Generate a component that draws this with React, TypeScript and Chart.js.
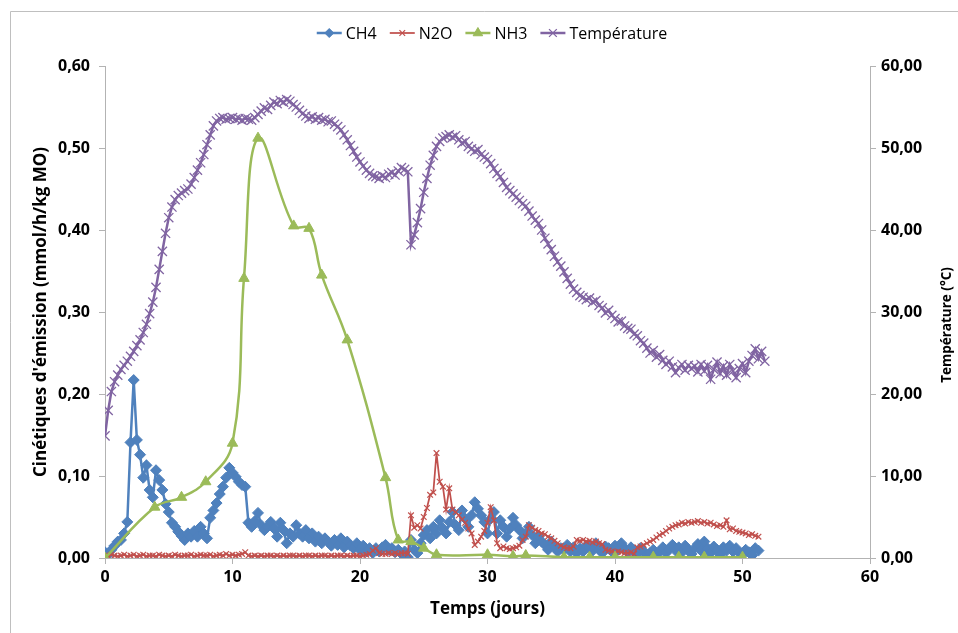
import { useEffect, useRef } from "react";
import { Chart, registerables } from "chart.js";
import { drawPoint } from "chart.js/helpers";

Chart.register(...registerables);

// Sampling interval of the continuous measurements (days, every 6 h)
const SAMPLE_STEP_DAYS = 0.25;

const seriesNames = ["CH4", "N2O", "NH3", "Température"];

const ch4Values = [
  0.007, 0.004, 0.010, 0.015, 0.020, 0.022, 0.030, 0.044,
  0.141, 0.217, 0.144, 0.126, 0.098, 0.113, 0.083, 0.074,
  0.107, 0.095, 0.083, 0.066, 0.056, 0.043, 0.038, 0.032,
  0.027, 0.022, 0.030, 0.026, 0.033, 0.026, 0.038, 0.030,
  0.024, 0.049, 0.058, 0.067, 0.078, 0.087, 0.098, 0.110,
  0.104, 0.099, 0.093, 0.089, 0.087, 0.043, 0.038, 0.045,
  0.055, 0.040, 0.034, 0.038, 0.044, 0.036, 0.026, 0.043,
  0.034, 0.018, 0.030, 0.026, 0.040, 0.030, 0.026, 0.034,
  0.024, 0.030, 0.020, 0.026, 0.018, 0.024, 0.020, 0.015,
  0.022, 0.016, 0.024, 0.013, 0.020, 0.015, 0.012, 0.018,
  0.010, 0.015, 0.008, 0.012, 0.006, 0.012, 0.008, 0.013,
  0.016, 0.010, 0.012, 0.007, 0.010, 0.005, 0.008, 0.001,
  0.022, 0.010, 0.006, 0.018, 0.028, 0.034, 0.024, 0.038,
  0.030, 0.046, 0.036, 0.030, 0.044, 0.056, 0.040, 0.034,
  0.058, 0.048, 0.038, 0.052, 0.068, 0.060, 0.052, 0.044,
  0.030, 0.048, 0.056, 0.030, 0.046, 0.038, 0.026, 0.036,
  0.049, 0.040, 0.034, 0.024, 0.030, 0.038, 0.028, 0.018,
  0.026, 0.020, 0.016, 0.010, 0.020, 0.014, 0.008, 0.012,
  0.010, 0.016, 0.008, 0.013, 0.006, 0.012, 0.008, 0.015,
  0.013, 0.009, 0.018, 0.010, 0.006, 0.014, 0.012, 0.008,
  0.015, 0.010, 0.018, 0.012, 0.007, 0.013, 0.007, 0.005,
  0.012, 0.008, 0.004, 0.006, 0.010, 0.004, 0.008, 0.013,
  0.006, 0.011, 0.016, 0.009, 0.013, 0.007, 0.015, 0.010,
  0.005, 0.012, 0.017, 0.009, 0.020, 0.012, 0.006, 0.014,
  0.010, 0.004, 0.013, 0.009, 0.015, 0.008, 0.012, 0.006,
  0.004, 0.010, 0.007, 0.003, 0.012, 0.009,
];

const n2oValues = [
  0.003, 0.002, 0.004, 0.003, 0.002, 0.003, 0.004, 0.002,
  0.003, 0.004, 0.002, 0.003, 0.004, 0.002, 0.003, 0.003,
  0.002, 0.004, 0.003, 0.002, 0.003, 0.002, 0.004, 0.003,
  0.002, 0.003, 0.003, 0.004, 0.002, 0.003, 0.004, 0.003,
  0.003, 0.004, 0.002, 0.003, 0.004, 0.003, 0.005, 0.003,
  0.004, 0.003, 0.004, 0.005, 0.007, 0.003, 0.002, 0.003,
  0.002, 0.003, 0.002, 0.003, 0.003, 0.002, 0.003, 0.002,
  0.003, 0.002, 0.003, 0.003, 0.002, 0.003, 0.002, 0.003,
  0.003, 0.002, 0.003, 0.002, 0.003, 0.003, 0.002, 0.003,
  0.002, 0.003, 0.003, 0.002, 0.003, 0.002, 0.003, 0.003,
  0.002, 0.003, 0.004, 0.005, 0.009, 0.012, 0.006, 0.005,
  0.005, 0.006, 0.005, 0.006, 0.005, 0.006, 0.006, 0.005,
  0.052, 0.037, 0.040, 0.036, 0.050, 0.061, 0.077, 0.080,
  0.128, 0.093, 0.087, 0.059, 0.085, 0.059, 0.056, 0.052,
  0.047, 0.043, 0.036, 0.030, 0.016, 0.020, 0.026, 0.033,
  0.043, 0.062, 0.046, 0.018, 0.012, 0.014, 0.012, 0.011,
  0.012, 0.013, 0.015, 0.022, 0.026, 0.040, 0.037, 0.034,
  0.033, 0.030, 0.029, 0.026, 0.024, 0.021, 0.018, 0.015,
  0.013, 0.012, 0.012, 0.014, 0.022, 0.021, 0.022, 0.020,
  0.021, 0.019, 0.020, 0.018, 0.017, 0.010, 0.009, 0.008,
  0.007, 0.008, 0.007, 0.006, 0.006, 0.007, 0.005, 0.013,
  0.014, 0.016, 0.018, 0.020, 0.022, 0.025, 0.028, 0.030,
  0.033, 0.036, 0.038, 0.040, 0.041, 0.043, 0.042, 0.044,
  0.043, 0.044, 0.045, 0.043, 0.044, 0.042, 0.043, 0.041,
  0.039, 0.040, 0.038, 0.046, 0.035, 0.036, 0.033, 0.032,
  0.031, 0.030, 0.028, 0.029, 0.027, 0.026,
];

const nh3Days = [0, 3.9, 6.0, 7.9, 10.0, 10.9, 12.0, 14.8, 16.0, 17.0, 19.0, 22.0, 23.0, 24.0, 25.0, 26.0, 30.0, 32.0, 33.0, 36.0, 38.0, 40.0, 43.0, 45.0, 47.0, 50.0];
const nh3Values = [0.0, 0.062, 0.074, 0.093, 0.140, 0.341, 0.512, 0.405, 0.402, 0.345, 0.266, 0.098, 0.022, 0.020, 0.012, 0.004, 0.004, 0.002, 0.003, 0.001, 0.001, 0.001, 0.001, 0.001, 0.001, 0.001];

const temperatureValues = [
  14.9, 18.0, 20.3, 21.5, 22.3, 23.0, 23.5, 24.0,
  24.6, 25.2, 25.9, 26.6, 27.5, 28.5, 29.8, 31.2,
  33.0, 35.2, 37.4, 39.6, 41.5, 42.8, 43.7, 44.2,
  44.5, 44.8, 45.0, 45.6, 46.4, 47.3, 48.2, 49.2,
  50.4, 51.6, 52.7, 53.3, 53.6, 53.7, 53.5, 53.6,
  53.7, 53.5, 53.6, 53.4, 53.6, 53.5, 53.4, 53.7,
  54.1, 54.5, 54.9, 54.7, 55.2, 55.6, 55.4, 55.8,
  55.6, 55.9, 55.7, 55.3, 55.0, 54.6, 54.2, 53.9,
  53.6, 53.8, 53.5, 53.7, 53.4, 53.5, 53.2, 53.3,
  52.9, 52.6, 52.2, 51.6, 51.0, 50.3, 49.6, 48.9,
  48.3, 47.8, 47.3, 46.9, 46.6, 46.5, 46.3, 46.6,
  46.4, 46.8, 47.0, 46.7, 47.2, 47.6, 47.4, 47.1,
  38.2, 39.4, 40.9, 42.6, 44.6, 46.3, 47.9, 49.1,
  50.2, 50.8, 51.2, 51.4, 51.6, 51.3, 51.5, 51.0,
  50.6, 50.8, 50.2, 49.9, 49.6, 49.8, 49.2, 48.9,
  48.6, 48.1, 47.5, 46.9, 46.5, 45.8, 45.2, 44.8,
  44.4, 44.0, 43.6, 43.2, 42.9, 42.3, 41.7, 41.2,
  40.8, 40.0, 39.0, 38.3, 37.6, 36.8, 36.1, 35.6,
  34.9, 34.1, 33.4, 32.8, 32.4, 32.0, 31.8, 31.5,
  31.7, 31.2, 31.4, 30.8, 30.5, 29.9, 30.2, 29.6,
  29.2, 28.8, 28.9, 28.3, 28.0, 27.9, 27.3, 27.1,
  26.5, 26.2, 25.6, 25.0, 25.3, 24.5, 24.8, 24.1,
  23.6, 24.0, 23.3, 22.6, 23.2, 23.6, 22.9, 23.5,
  23.1, 23.4, 22.7, 23.6, 22.8, 23.5, 21.8, 23.0,
  23.9, 22.5, 23.4, 22.3, 23.6, 22.8, 22.0, 23.1,
  23.7, 22.6, 24.0, 24.7, 25.5, 24.3, 25.2, 24.0,
];

const X_MIN = 0, X_MAX = 60, X_STEP = 10;
const Y_MIN = 0, Y_MAX = 0.6, Y_STEP = 0.1;
const T_MIN = 0, T_MAX = 60, T_STEP = 10;

const FONT = "'Open Sans', Lato, sans-serif";
const AXIS_COLOR = "#b3b3b3";
const COLORS = ["#4F81BD", "#C0504D", "#9BBB59", "#8064A2"];

const fmt = (v: number) => v.toFixed(2).replace(".", ",");

const toPoints = (vals: number[]) => vals.map((v, i) => ({ x: i * SAMPLE_STEP_DAYS, y: v }));

const legendPlugin = {
  id: "excelLegend",
  afterDraw(chart: any) {
    const ctx = chart.ctx as CanvasRenderingContext2D;
    const ds = chart.data.datasets;
    const order = [0, 1, 2, 3];
    ctx.save();
    ctx.font = `16px ${FONT}`;
    const lineLen = 25, gapText = 4, gapItem = 13;
    const widths = order.map((i) => ctx.measureText(ds[i].label).width);
    const total = widths.reduce((a, w) => a + lineLen + gapText + w, 0) + gapItem * (order.length - 1);
    let x = 492 - total / 2;
    const y = 33;
    order.forEach((i, k) => {
      const d = ds[i];
      ctx.strokeStyle = d.borderColor;
      ctx.lineWidth = Math.min(d.borderWidth, 2.5);
      ctx.beginPath();
      ctx.moveTo(x, y);
      ctx.lineTo(x + lineLen, y);
      ctx.stroke();
      ctx.fillStyle = d.backgroundColor;
      ctx.strokeStyle = d.borderColor;
      ctx.lineWidth = d.pointBorderWidth;
      drawPoint(
        ctx,
        { pointStyle: d.pointStyle, rotation: 0, radius: d.legendRadius, borderWidth: d.pointBorderWidth },
        x + lineLen / 2,
        y
      );
      ctx.fillStyle = "#000";
      ctx.textBaseline = "middle";
      ctx.textAlign = "left";
      ctx.fillText(d.label, x + lineLen + gapText, y + 1);
      x += lineLen + gapText + widths[k] + gapItem;
    });
    ctx.restore();
  },
};

const framePlugin = {
  id: "frame",
  beforeDraw(chart: any) {
    const ctx = chart.ctx as CanvasRenderingContext2D;
    ctx.save();
    ctx.fillStyle = "#ffffff";
    ctx.fillRect(0, 0, chart.width, chart.height);
    ctx.strokeStyle = "#bfbfbf";
    ctx.lineWidth = 1;
    ctx.beginPath();
    ctx.moveTo(10.5, chart.height + 2);
    ctx.lineTo(10.5, 11.5);
    ctx.lineTo(chart.width + 2, 11.5);
    ctx.stroke();
    ctx.restore();
  },
  afterDraw(chart: any) {
    const ctx = chart.ctx as CanvasRenderingContext2D;
    ctx.save();
    ctx.font = `bold 13.5px ${FONT}`;
    ctx.fillStyle = "#000";
    ctx.textAlign = "center";
    ctx.textBaseline = "middle";
    ctx.translate(947, 325);
    ctx.rotate(-Math.PI / 2);
    ctx.fillText("Température (°C)", 0, 0);
    ctx.restore();
  },
};

export default function App() {
  const ref = useRef<HTMLCanvasElement | null>(null);
  useEffect(() => {
    if (!ref.current) return;
    const tickFont = { family: FONT, size: 16, weight: "bold" as const };
    const chart = new Chart(ref.current, {
      type: "line",
      data: {
        datasets: [
          {
            label: seriesNames[0],
            data: toPoints(ch4Values),
            yAxisID: "y",
            borderColor: COLORS[0],
            backgroundColor: COLORS[0],
            borderWidth: 2.5,
            pointStyle: "rectRot",
            pointRadius: 5.5,
            pointBorderWidth: 1,
            legendRadius: 4.5,
            tension: 0,
            order: 3,
          },
          {
            label: seriesNames[1],
            data: toPoints(n2oValues),
            yAxisID: "y",
            borderColor: COLORS[1],
            backgroundColor: COLORS[1],
            borderWidth: 1.75,
            pointStyle: "crossRot",
            pointRadius: 4,
            pointBorderWidth: 1.2,
            legendRadius: 4,
            tension: 0,
            order: 2,
          },
          {
            label: seriesNames[2],
            data: nh3Days.map((d, i) => ({ x: d, y: nh3Values[i] })),
            yAxisID: "y",
            borderColor: COLORS[2],
            backgroundColor: COLORS[2],
            borderWidth: 2.5,
            pointStyle: "triangle",
            pointRadius: 6,
            pointBorderWidth: 1,
            legendRadius: 5.5,
            tension: 0.4,
            order: 1,
          },
          {
            label: seriesNames[3],
            data: toPoints(temperatureValues),
            yAxisID: "y2",
            borderColor: COLORS[3],
            backgroundColor: COLORS[3],
            borderWidth: 2.5,
            pointStyle: "crossRot",
            pointRadius: 6.5,
            pointBorderWidth: 1.3,
            legendRadius: 5.5,
            tension: 0,
            order: 0,
          },
        ],
      },
      options: {
        responsive: false,
        animation: false,
        devicePixelRatio: 1,
        events: [],
        layout: { padding: { left: 10, right: 0, top: 66, bottom: 0 } },
        plugins: { legend: { display: false }, tooltip: { enabled: false } },
        scales: {
          x: {
            type: "linear",
            min: X_MIN,
            max: X_MAX,
            ticks: { stepSize: X_STEP, font: tickFont, color: "#000", padding: 4, maxRotation: 0 },
            grid: { drawOnChartArea: false, drawTicks: true, tickLength: 6, color: AXIS_COLOR },
            border: { color: AXIS_COLOR },
            title: {
              display: true,
              text: "Temps (jours)",
              font: { family: FONT, size: 17, weight: "bold" },
              color: "#000",
              padding: { top: 0, bottom: 14 },
            },
            afterFit: (s: any) => { s.height = 75; },
          },
          y: {
            type: "linear",
            position: "left",
            min: Y_MIN,
            max: Y_MAX,
            ticks: { stepSize: Y_STEP, font: tickFont, color: "#000", padding: 9, callback: (v: any) => fmt(Number(v)) },
            grid: { drawOnChartArea: false, drawTicks: true, tickLength: 6, color: AXIS_COLOR },
            border: { color: AXIS_COLOR },
            title: {
              display: true,
              text: "Cinétiques d'émission (mmol/h/kg MO)",
              font: { family: FONT, size: 17, weight: "bold" },
              color: "#000",
              padding: { top: 21, bottom: 0 },
            },
            afterFit: (s: any) => { s.width = 95; },
          },
          y2: {
            type: "linear",
            position: "right",
            min: T_MIN,
            max: T_MAX,
            ticks: { stepSize: T_STEP, font: tickFont, color: "#000", padding: 5, callback: (v: any) => fmt(Number(v)) },
            grid: { drawOnChartArea: false, drawTicks: true, tickLength: 6, color: AXIS_COLOR },
            border: { color: AXIS_COLOR },
            afterFit: (s: any) => { s.width = 88; },
          },
        },
      },
      plugins: [framePlugin, legendPlugin],
    } as any);
    return () => chart.destroy();
  }, []);
  return (
    <div style={{ position: "absolute", left: 0, top: 0, width: 958, height: 633 }}>
      <canvas ref={ref} width={958} height={633} />
    </div>
  );
}
